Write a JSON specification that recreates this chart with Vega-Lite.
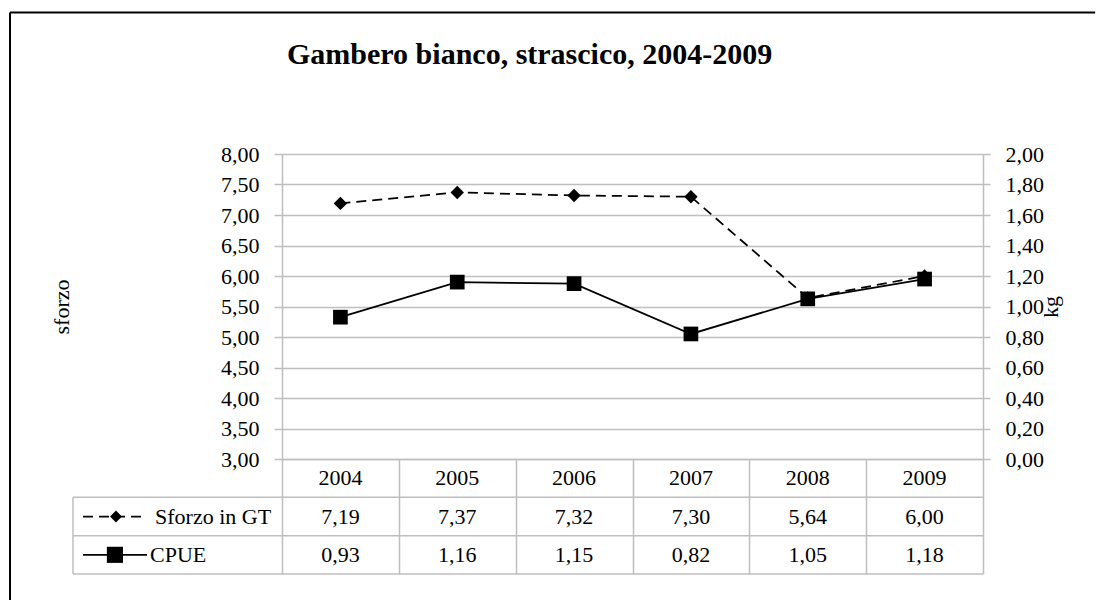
{
  "$schema": "https://vega.github.io/schema/vega-lite/v6.json",
  "width": 701,
  "height": 305,
  "autosize": {"type": "pad"},
  "padding": {"left": 9, "top": 11, "right": 0, "bottom": 0},
  "title": {
    "text": "Gambero bianco, strascico, 2004-2009",
    "anchor": "start",
    "frame": "bounds",
    "dx": 278,
    "offset": -83,
    "baseline": "alphabetic",
    "font": "Liberation Serif",
    "fontSize": 30,
    "fontWeight": "bold",
    "color": "black"
  },
  "config": {
    "font": "Liberation Serif",
    "view": {"stroke": null},
    "locale": {"number": {"decimal": ",", "thousands": ".", "grouping": [3], "currency": ["€", ""]}},
    "axis": {
      "labelFont": "Liberation Serif",
      "labelFontSize": 22,
      "labelColor": "black",
      "titleFont": "Liberation Serif",
      "titleFontSize": 22,
      "titleFontWeight": "normal",
      "titleColor": "black",
      "domainColor": "#bfbfbf",
      "domainWidth": 1.5,
      "tickColor": "#bfbfbf",
      "tickWidth": 1.5,
      "gridColor": "#bfbfbf",
      "gridWidth": 1.5,
      "labelPadding": 15,
      "tickSize": 8
    },
    "text": {"font": "Liberation Serif", "fontSize": 22, "color": "black"}
  },
  "data": {
    "values": [
      {"year": 2004, "serie": "Sforzo in GT", "valore": 7.19},
      {"year": 2005, "serie": "Sforzo in GT", "valore": 7.37},
      {"year": 2006, "serie": "Sforzo in GT", "valore": 7.32},
      {"year": 2007, "serie": "Sforzo in GT", "valore": 7.30},
      {"year": 2008, "serie": "Sforzo in GT", "valore": 5.64},
      {"year": 2009, "serie": "Sforzo in GT", "valore": 6.00},
      {"year": 2004, "serie": "CPUE", "valore": 0.93},
      {"year": 2005, "serie": "CPUE", "valore": 1.16},
      {"year": 2006, "serie": "CPUE", "valore": 1.15},
      {"year": 2007, "serie": "CPUE", "valore": 0.82},
      {"year": 2008, "serie": "CPUE", "valore": 1.05},
      {"year": 2009, "serie": "CPUE", "valore": 1.18}
    ]
  },
  "resolve": {"scale": {"y": "independent"}},
  "layer": [
    {
      "transform": [{"filter": "datum.serie === 'Sforzo in GT'"}],
      "encoding": {
        "x": {
          "field": "year",
          "type": "quantitative",
          "scale": {"domain": [2003.5, 2009.5], "nice": false, "zero": false},
          "axis": {
            "title": null,
            "values": [2003.5, 2004.5, 2005.5, 2006.5, 2007.5, 2008.5, 2009.5],
            "labels": false,
            "grid": false,
            "tickSize": 115,
            "tickColor": "#bfbfbf",
            "tickWidth": 1.5,
            "domainColor": "#bfbfbf",
            "domainWidth": 1.5
          }
        },
        "y": {
          "field": "valore",
          "type": "quantitative",
          "scale": {"domain": [3, 8], "nice": false, "zero": false},
          "axis": {
            "orient": "left",
            "title": "sforzo",
            "titlePadding": 147,
            "values": [3, 3.5, 4, 4.5, 5, 5.5, 6, 6.5, 7, 7.5, 8],
            "format": ".2f",
            "grid": true
          }
        }
      },
      "layer": [
        {"mark": {"type": "line", "color": "black", "strokeWidth": 1.75, "strokeDash": [10, 6]}},
        {"mark": {"type": "point", "shape": "diamond", "filled": true, "color": "black", "opacity": 1, "size": 180}}
      ]
    },
    {
      "transform": [{"filter": "datum.serie === 'CPUE'"}],
      "encoding": {
        "x": {"field": "year", "type": "quantitative"},
        "y": {
          "field": "valore",
          "type": "quantitative",
          "scale": {"domain": [0, 2], "nice": false, "zero": false},
          "axis": {
            "orient": "right",
            "title": "kg",
            "titleAngle": -90,
            "titleBaseline": "top",
            "titlePadding": -3,
            "tickSize": 7,
            "values": [0, 0.2, 0.4, 0.6, 0.8, 1, 1.2, 1.4, 1.6, 1.8, 2],
            "format": ".2f",
            "grid": false
          }
        }
      },
      "layer": [
        {"mark": {"type": "line", "color": "black", "strokeWidth": 1.75}},
        {"mark": {"type": "point", "shape": "square", "filled": true, "color": "black", "opacity": 1, "size": 216}}
      ]
    },
    {
      "layer": [
        {
          "transform": [{"filter": "datum.serie === 'CPUE'"}],
          "mark": {"type": "text"},
          "encoding": {
            "x": {"field": "year", "type": "quantitative"},
            "y": {"datum": 0.5, "type": "quantitative", "scale": {"domain": [0, 3], "range": [305, 420], "nice": false, "zero": false}, "axis": null},
            "text": {"field": "year", "type": "quantitative", "format": "d"}
          }
        },
        {
          "transform": [{"filter": "datum.serie === 'Sforzo in GT'"}],
          "mark": {"type": "text"},
          "encoding": {
            "x": {"field": "year", "type": "quantitative"},
            "y": {"datum": 1.5, "type": "quantitative"},
            "text": {"field": "valore", "type": "quantitative", "format": ".2f"}
          }
        },
        {
          "transform": [{"filter": "datum.serie === 'CPUE'"}],
          "mark": {"type": "text"},
          "encoding": {
            "x": {"field": "year", "type": "quantitative"},
            "y": {"datum": 2.5, "type": "quantitative"},
            "text": {"field": "valore", "type": "quantitative", "format": ".2f"}
          }
        },
        {
          "transform": [{"filter": "datum.serie === 'Sforzo in GT' && datum.year === 2004"}],
          "mark": {"type": "text", "align": "left"},
          "encoding": {
            "x": {"datum": 2002.413, "type": "quantitative"},
            "y": {"datum": 1.5, "type": "quantitative"},
            "text": {"field": "serie", "type": "nominal"}
          }
        },
        {
          "transform": [{"filter": "datum.serie === 'CPUE' && datum.year === 2004"}],
          "mark": {"type": "text", "align": "left"},
          "encoding": {
            "x": {"datum": 2002.37, "type": "quantitative"},
            "y": {"datum": 2.5, "type": "quantitative"},
            "text": {"field": "serie", "type": "nominal"}
          }
        },
        {
          "data": {"values": [{}]},
          "mark": {"type": "rule", "color": "black", "strokeWidth": 1.75, "strokeDash": [10, 6]},
          "encoding": {
            "x": {"datum": 2001.797, "type": "quantitative"},
            "x2": {"datum": 2002.345},
            "y": {"datum": 1.5, "type": "quantitative"}
          }
        },
        {
          "data": {"values": [{}]},
          "mark": {"type": "point", "shape": "diamond", "filled": true, "color": "black", "opacity": 1, "size": 140},
          "encoding": {
            "x": {"datum": 2002.079, "type": "quantitative"},
            "y": {"datum": 1.5, "type": "quantitative"}
          }
        },
        {
          "data": {"values": [{}]},
          "mark": {"type": "rule", "color": "black", "strokeWidth": 1.75},
          "encoding": {
            "x": {"datum": 2001.797, "type": "quantitative"},
            "x2": {"datum": 2002.345},
            "y": {"datum": 2.5, "type": "quantitative"}
          }
        },
        {
          "data": {"values": [{}]},
          "mark": {"type": "point", "shape": "square", "filled": true, "color": "black", "opacity": 1, "size": 260},
          "encoding": {
            "x": {"datum": 2002.07, "type": "quantitative"},
            "y": {"datum": 2.5, "type": "quantitative"}
          }
        },
        {
          "data": {"values": [{"riga": 1}, {"riga": 2}, {"riga": 3}]},
          "mark": {"type": "rule", "color": "#bfbfbf", "strokeWidth": 1.5},
          "encoding": {
            "x": {"datum": 2001.711, "type": "quantitative"},
            "x2": {"datum": 2009.5},
            "y": {"field": "riga", "type": "quantitative"}
          }
        },
        {
          "data": {"values": [{}]},
          "mark": {"type": "rule", "color": "#bfbfbf", "strokeWidth": 1.5},
          "encoding": {
            "x": {"datum": 2001.711, "type": "quantitative"},
            "y": {"datum": 1, "type": "quantitative"},
            "y2": {"datum": 3}
          }
        },
        {
          "data": {"values": [{}]},
          "mark": {"type": "rule", "color": "black", "strokeWidth": 2},
          "encoding": {
            "x": {"datum": 2001.172, "type": "quantitative"},
            "y": {"datum": -11.648, "type": "quantitative"},
            "y2": {"datum": 3.68}
          }
        },
        {
          "data": {"values": [{}]},
          "mark": {"type": "rule", "color": "black", "strokeWidth": 2},
          "encoding": {
            "x": {"datum": 2001.172, "type": "quantitative"},
            "x2": {"datum": 2010.46},
            "y": {"datum": -11.648, "type": "quantitative"}
          }
        }
      ]
    }
  ]
}
